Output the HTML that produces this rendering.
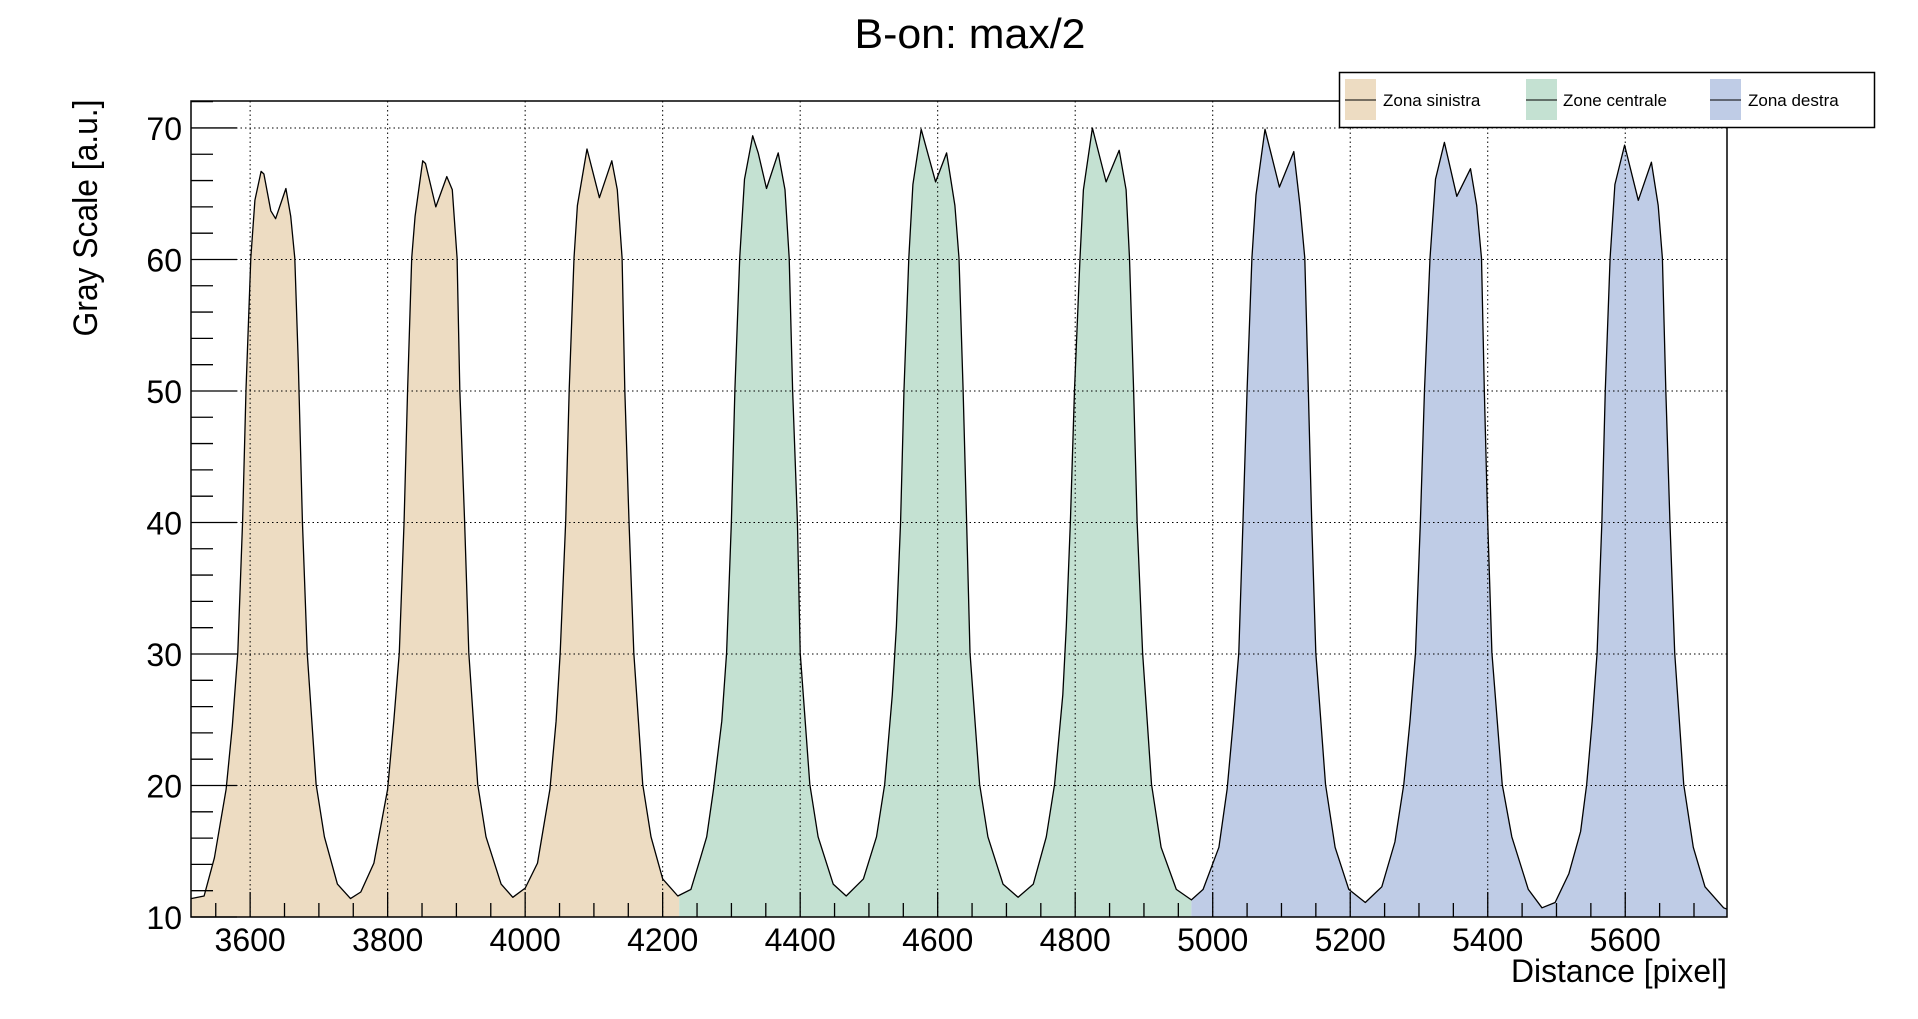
<!DOCTYPE html>
<html><head><meta charset="utf-8"><title>B-on: max/2</title>
<style>
html,body{margin:0;padding:0;background:#fff;}
svg{display:block;font-family:"Liberation Sans",Arial,sans-serif;}
</style></head>
<body>
<svg id="chart" width="1918" height="1019" viewBox="0 0 1918 1019" xmlns="http://www.w3.org/2000/svg">
  <rect x="0" y="0" width="1918" height="1019" fill="#fff"/>
  <text x="970" y="48" font-size="42" text-anchor="middle" textLength="231" lengthAdjust="spacingAndGlyphs">B-on: max/2</text>
  <g id="plot"></g>
  <text transform="translate(97,218) rotate(-90)" font-size="34" text-anchor="middle" textLength="237" lengthAdjust="spacingAndGlyphs">Gray Scale [a.u.]</text>
  <text x="1727" y="982" font-size="32" text-anchor="end" textLength="216" lengthAdjust="spacingAndGlyphs">Distance [pixel]</text>
  <g>
    <rect x="1339.5" y="72.5" width="535" height="55" fill="#fff" stroke="#000" stroke-width="1.5"/>
    <g>
      <rect x="1345" y="79" width="31" height="41" fill="#eddcc2"/>
      <line x1="1345" y1="100" x2="1376" y2="100" stroke="#000" stroke-width="1"/>
      <text x="1383" y="106" font-size="17">Zona sinistra</text>
    </g>
    <g>
      <rect x="1526" y="79" width="31" height="41" fill="#c4e1d2"/>
      <line x1="1526" y1="100" x2="1557" y2="100" stroke="#000" stroke-width="1"/>
      <text x="1563" y="106" font-size="17">Zone centrale</text>
    </g>
    <g>
      <rect x="1710" y="79" width="31" height="41" fill="#bfcce6"/>
      <line x1="1710" y1="100" x2="1741" y2="100" stroke="#000" stroke-width="1"/>
      <text x="1748" y="106" font-size="17">Zona destra</text>
    </g>
  </g>
</svg>
<script>
const distances = [3514,3533,3548,3565,3574,3582,3589,3594,3601,3607,3616,3620,3630,3637,3652,3659,3665,3670,3676,3683,3696,3708,3727,3746,3761,3780,3800,
3809,3817,3824,3829,3835,3840,3851,3855,3870,3886,3894,3901,3905,3912,3918,3931,3943,3965,3982,4000,4018,4036,
4045,4051,4059,4064,4071,4076,4090,4108,4126,4134,4141,4145,4151,4158,4171,4183,4200,4222,4241,4255,
4264,4274,4286,4293,4300,4305,4312,4319,4331,4339,4351,4368,4378,4384,4389,4396,4400,4414,4426,4448,4467,4492,4511,4523,
4534,4540,4546,4551,4558,4564,4576,4597,4613,4625,4631,4637,4642,4647,4661,4673,4695,4717,4739,4758,4770,
4782,4787,4793,4799,4807,4812,4825,4845,4864,4874,4879,4885,4890,4898,4911,4925,4947,4969,4986,5009,
5021,5030,5038,5044,5050,5057,5063,5076,5097,5118,5127,5134,5139,5144,5150,5164,5178,5198,5222,5246,5265,5278,
5287,5295,5302,5308,5316,5324,5337,5355,5375,5384,5391,5395,5400,5406,5421,5435,5459,5479,5498,5518,5535,5544,
5552,5559,5566,5571,5578,5585,5599,5619,5638,5648,5654,5659,5665,5672,5685,5699,5716,5743,5748];
const grayValues = [11.4,11.6,14.5,19.7,24.5,30.1,40.1,50.1,60.1,64.5,66.7,66.5,63.7,63.1,65.4,63.3,60.1,52.1,40.1,30.1,20.1,16.1,12.5,11.4,11.9,14.1,19.7,
24.9,30.1,40.1,50.1,60.1,63.3,67.5,67.3,64.0,66.3,65.3,60.1,50.1,40.1,30.1,20.1,16.1,12.5,11.5,12.2,14.1,19.7,
24.9,30.1,40.1,50.1,60.1,64.1,68.4,64.7,67.5,65.3,60.1,50.1,40.1,30.1,20.1,16.1,12.9,11.6,12.1,14.5,
16.1,19.7,24.9,30.1,40.1,50.1,60.1,66.1,69.4,68.1,65.4,68.1,65.3,60.1,50.1,40.1,30.1,20.1,16.1,12.5,11.6,12.9,16.1,20.1,
26.9,32.1,40.1,50.1,60.1,65.7,69.9,65.9,68.1,64.1,60.1,50.1,40.1,30.1,20.1,16.1,12.5,11.5,12.5,16.1,20.1,
26.9,32.1,40.1,50.1,60.1,65.3,70.0,65.9,68.3,65.3,60.1,50.1,40.1,30.1,20.1,15.3,12.1,11.3,12.1,15.3,
19.7,24.9,30.1,40.1,50.1,60.1,64.9,69.9,65.5,68.2,64.1,60.1,50.1,40.1,30.1,20.1,15.3,12.1,11.1,12.3,15.7,20.1,
24.9,30.1,40.1,50.1,60.1,66.1,68.9,64.8,66.9,64.1,60.1,50.1,40.1,30.1,20.1,16.1,12.1,10.7,11.1,13.3,16.5,20.1,
24.9,30.1,40.1,50.1,60.1,65.7,68.7,64.5,67.4,64.1,60.1,50.1,40.1,30.1,20.1,15.3,12.3,10.7,10.6];
const zoneNames = ["zona-sinistra","zone-centrale","zona-destra"];
const zoneStarts = [3514,4224,4969];
const zoneEnds = [4224,4969,5748];
const zoneColors = ["#eddcc2","#c4e1d2","#bfcce6"];
const xTicks = [3600,3800,4000,4200,4400,4600,4800,5000,5200,5400,5600];
const yTicks = [10,20,30,40,50,60,70];

const NS="http://www.w3.org/2000/svg";
const L=191,R=1727,T=101,B=917;
const xMin=3514,xMax=5748,yMin=10,yMax=72.05;
const sx=v=>L+(v-xMin)/(xMax-xMin)*(R-L);
const sy=v=>B-(v-yMin)/(yMax-yMin)*(B-T);
const plot=document.getElementById('plot');
function mk(tag,attrs,parent){const e=document.createElementNS(NS,tag);for(const k in attrs)e.setAttribute(k,attrs[k]);(parent||plot).appendChild(e);return e;}

const defs=mk('defs',{});
let pts=distances.map((d,i)=>sx(d).toFixed(1)+','+sy(grayValues[i]).toFixed(1));
const areaPts=sx(distances[0]).toFixed(1)+','+B+' '+pts.join(' ')+' '+sx(distances[distances.length-1]).toFixed(1)+','+B;
zoneNames.forEach((n,i)=>{
  const cp=mk('clipPath',{id:'clip-'+n},defs);
  mk('rect',{x:sx(zoneStarts[i]),y:T,width:sx(zoneEnds[i])-sx(zoneStarts[i]),height:B-T},cp);
  const a=mk('polygon',{points:areaPts,fill:zoneColors[i],'clip-path':'url(#clip-'+n+')'});
  
  
});
xTicks.forEach(t=>{const g=mk('line',{x1:sx(t),x2:sx(t),y1:T,y2:B,stroke:'#000','stroke-width':1,'stroke-dasharray':'1.5,3'});
  
  });
yTicks.forEach(t=>{const g=mk('line',{x1:L,x2:R,y1:sy(t),y2:sy(t),stroke:'#000','stroke-width':1,'stroke-dasharray':'1.5,3'});
  
  });
const curve=mk('polyline',{points:pts.join(' '),fill:'none',stroke:'#000','stroke-width':1.3,'stroke-linejoin':'round'});


const fr=mk('rect',{x:L,y:T,width:R-L,height:B-T,fill:'none',stroke:'#000','stroke-width':1.5});


for(let v=3550;v<=5747;v+=50){const major=(v%200===0);
  const tk=mk('line',{x1:sx(v),x2:sx(v),y1:B,y2:B-(major?25:14),stroke:'#000','stroke-width':1.3});
  
  }
xTicks.forEach(t=>{const tx=mk('text',{x:sx(t),y:951,'font-size':32,'text-anchor':'middle'});tx.textContent=t;
  
  });
for(let v=10;v<=72;v+=2){const major=(v%10===0);
  const tk=mk('line',{x1:L,x2:L+(major?46:22),y1:sy(v),y2:sy(v),stroke:'#000','stroke-width':1.3});
  
  }
yTicks.forEach(t=>{const tx=mk('text',{x:182,y:sy(t)+12,'font-size':32,'text-anchor':'end'});tx.textContent=t;
  
  });
</script>
</body></html>
